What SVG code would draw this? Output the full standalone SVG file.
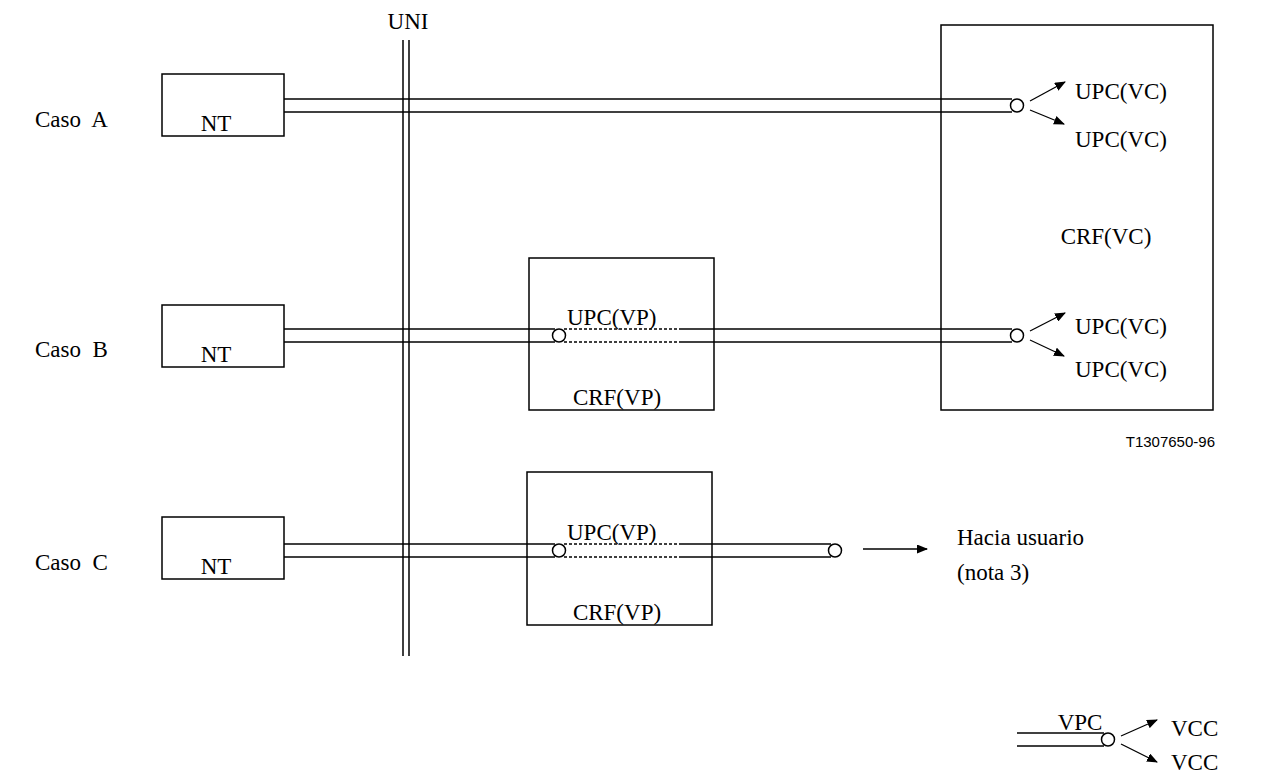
<svg xmlns="http://www.w3.org/2000/svg" width="1281" height="774" viewBox="0 0 1281 774">
<defs>
<marker id="ah" markerWidth="11" markerHeight="9" refX="10" refY="4.5" orient="auto" markerUnits="userSpaceOnUse">
<path d="M0,0 L11,4.5 L0,9 Z" fill="#000"/>
</marker>
<style>
.t{font-family:"Liberation Serif","Times New Roman",serif;font-size:23px;fill:#000;white-space:pre}
.s{font-family:"Liberation Sans",Arial,sans-serif;font-size:15px;fill:#000}
.b{fill:#fff;stroke:#000;stroke-width:1.5}
.l{stroke:#000;stroke-width:1.5;fill:none}
.d{stroke:#000;stroke-width:1.5;fill:none;stroke-dasharray:3,2}
.c{fill:#fff;stroke:#000;stroke-width:1.5}
.a{stroke:#000;stroke-width:1.3;fill:none;marker-end:url(#ah)}
</style>
</defs>
<rect width="1281" height="774" fill="#fff"/>

<g id="labels">
<text class="t" x="35" y="127" xml:space="preserve">Caso  A</text>
<text class="t" x="35" y="357" xml:space="preserve">Caso  B</text>
<text class="t" x="35" y="570" xml:space="preserve">Caso  C</text>
<text class="t" x="408" y="29" text-anchor="middle">UNI</text>
<text class="s" x="1215" y="447" text-anchor="end">T1307650-96</text>
</g>

<g id="crf-vc">
<rect class="b" x="941" y="25" width="272" height="385"/>
<text class="t" x="1106" y="244" text-anchor="middle">CRF(VC)</text>
</g>

<g id="crf-vp-b">
<rect class="b" x="529" y="258" width="185" height="152"/>
<text class="t" x="617" y="405" text-anchor="middle">CRF(VP)</text>
</g>

<g id="crf-vp-c">
<rect class="b" x="527" y="472" width="185" height="153"/>
<text class="t" x="617" y="620" text-anchor="middle">CRF(VP)</text>
</g>

<g id="nt-a">
<rect class="b" x="162" y="74" width="122" height="62"/>
<text class="t" x="216" y="131" text-anchor="middle">NT</text>
</g>
<g id="nt-b">
<rect class="b" x="162" y="305" width="122" height="62"/>
<text class="t" x="216" y="362" text-anchor="middle">NT</text>
</g>
<g id="nt-c">
<rect class="b" x="162" y="517" width="122" height="62"/>
<text class="t" x="216" y="574" text-anchor="middle">NT</text>
</g>

<g id="connectors">
<line class="l" x1="403" y1="40" x2="403" y2="656"/>
<line class="l" x1="409" y1="40" x2="409" y2="656"/>

<line class="l" x1="284" y1="99" x2="1012" y2="99"/>
<line class="l" x1="284" y1="112" x2="1012" y2="112"/>
<circle class="c" cx="1017" cy="105.5" r="6.5"/>
<line class="a" x1="1030" y1="101" x2="1065" y2="82"/>
<line class="a" x1="1030" y1="110" x2="1064" y2="124"/>

<line class="l" x1="284" y1="329" x2="555" y2="329"/>
<line class="l" x1="284" y1="342" x2="555" y2="342"/>
<line class="d" x1="564" y1="329" x2="680" y2="329"/>
<line class="d" x1="564" y1="342" x2="680" y2="342"/>
<line class="l" x1="680" y1="329" x2="1012" y2="329"/>
<line class="l" x1="680" y1="342" x2="1012" y2="342"/>
<circle class="c" cx="559" cy="335.5" r="6.5"/>
<circle class="c" cx="1017" cy="335.5" r="6.5"/>
<line class="a" x1="1030" y1="331" x2="1065" y2="313"/>
<line class="a" x1="1030" y1="340" x2="1064" y2="356"/>

<line class="l" x1="284" y1="544" x2="555" y2="544"/>
<line class="l" x1="284" y1="557" x2="555" y2="557"/>
<line class="d" x1="564" y1="544" x2="680" y2="544"/>
<line class="d" x1="564" y1="557" x2="680" y2="557"/>
<line class="l" x1="680" y1="544" x2="831" y2="544"/>
<line class="l" x1="680" y1="557" x2="831" y2="557"/>
<circle class="c" cx="559" cy="550.5" r="6.5"/>
<circle class="c" cx="835" cy="550.5" r="6.5"/>
<line class="a" x1="863" y1="549" x2="927" y2="549"/>

<line class="l" x1="1017" y1="733" x2="1104" y2="733"/>
<line class="l" x1="1017" y1="746" x2="1104" y2="746"/>
<circle class="c" cx="1108" cy="739.5" r="6.5"/>
<line class="a" x1="1121" y1="736" x2="1157" y2="720"/>
<line class="a" x1="1121" y1="744" x2="1157" y2="762"/>
</g>

<g id="texts">
<text class="t" x="1075" y="99">UPC(VC)</text>
<text class="t" x="1075" y="147">UPC(VC)</text>
<text class="t" x="1075" y="334">UPC(VC)</text>
<text class="t" x="1075" y="377">UPC(VC)</text>
<text class="t" x="567" y="325">UPC(VP)</text>
<text class="t" x="567" y="540">UPC(VP)</text>
<text class="t" x="957" y="545">Hacia usuario</text>
<text class="t" x="957" y="580">(nota 3)</text>
<text class="t" x="1080" y="730" text-anchor="middle">VPC</text>
<text class="t" x="1171" y="736">VCC</text>
<text class="t" x="1171" y="770">VCC</text>
</g>
</svg>
